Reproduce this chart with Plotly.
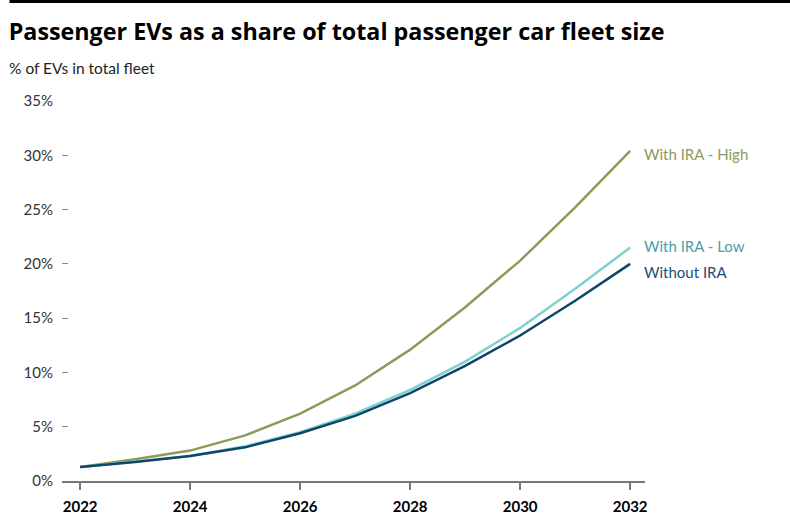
import plotly.graph_objects as go

years = list(range(2022, 2033))
with_ira_high = [1.3, 2.0, 2.8, 4.2, 6.2, 8.8, 12.1, 16.0, 20.3, 25.2, 30.4]
with_ira_low = [1.3, 1.8, 2.3, 3.2, 4.5, 6.2, 8.4, 11.0, 14.1, 17.7, 21.5]
without_ira = [1.3, 1.75, 2.3, 3.1, 4.4, 6.0, 8.1, 10.6, 13.4, 16.6, 20.0]

series = [
    ("With IRA - High", with_ira_high, "#8c9b57", "#8c9b5b", -3),
    ("With IRA - Low", with_ira_low, "#7fd0d1", "#4a9ea6", 2),
    ("Without IRA", without_ira, "#0e4568", "#1c4e72", -8),
]

FONT = "Lato"
fig = go.Figure()
for name, vals, col, lcol, ysh in series:
    fig.add_trace(go.Scatter(x=years, y=vals, mode="lines", name=name,
                             line=dict(color=col, width=2.5), showlegend=False))
    fig.add_annotation(x=years[-1], y=vals[-1], text=name, showarrow=False,
                       xanchor="left", yanchor="middle", xshift=12, yshift=ysh,
                       font=dict(family=FONT, size=15, color=lcol))

fig.add_shape(type="line", xref="paper", yref="paper", x0=-0.09, x1=1.25,
              y0=1.262, y1=1.262, line=dict(color="black", width=3))

fig.update_layout(
    width=790, height=529,
    margin=dict(l=62, r=145, t=101, b=48),
    paper_bgcolor="white", plot_bgcolor="white",
    font=dict(family=FONT, color="#333"),
    title=dict(text="<b>Passenger EVs as a share of total passenger car fleet size</b>",
               x=0.011, xanchor="left", y=0.94, yanchor="middle",
               font=dict(family="Open Sans", size=23.3, color="black")),
    annotations=list(fig.layout.annotations) + [
        dict(text="% of EVs in total fleet", xref="paper", yref="paper",
             x=-0.094, y=1.087, xanchor="left", yanchor="middle", showarrow=False,
             font=dict(family=FONT, size=15.5, color="#222"))
    ],
)
fig.update_xaxes(range=[2021.67, 2032.27], tickvals=[2022, 2024, 2026, 2028, 2030, 2032],
                 showgrid=False, showline=True, linecolor="#777", linewidth=1.5,
                 ticks="outside", ticklen=7, tickcolor="#777", tickwidth=1.5,
                 tickfont=dict(family=FONT, size=15, color="black", weight="bold"),
                 ticklabelstandoff=4, zeroline=False)
fig.update_yaxes(range=[0, 35], tickvals=[0, 5, 10, 15, 20, 25, 30, 35],
                 ticktext=["0%", "5%", "10%", "15%", "20%", "25%", "30%", "35%"],
                 showgrid=False, showline=False, zeroline=False,
                 ticks="inside", ticklen=6, tickcolor="#888", tickwidth=1.2,
                 tickfont=dict(family=FONT, size=15, color="#333"),
                 ticklabelstandoff=8)
fig.write_html("out.html")
